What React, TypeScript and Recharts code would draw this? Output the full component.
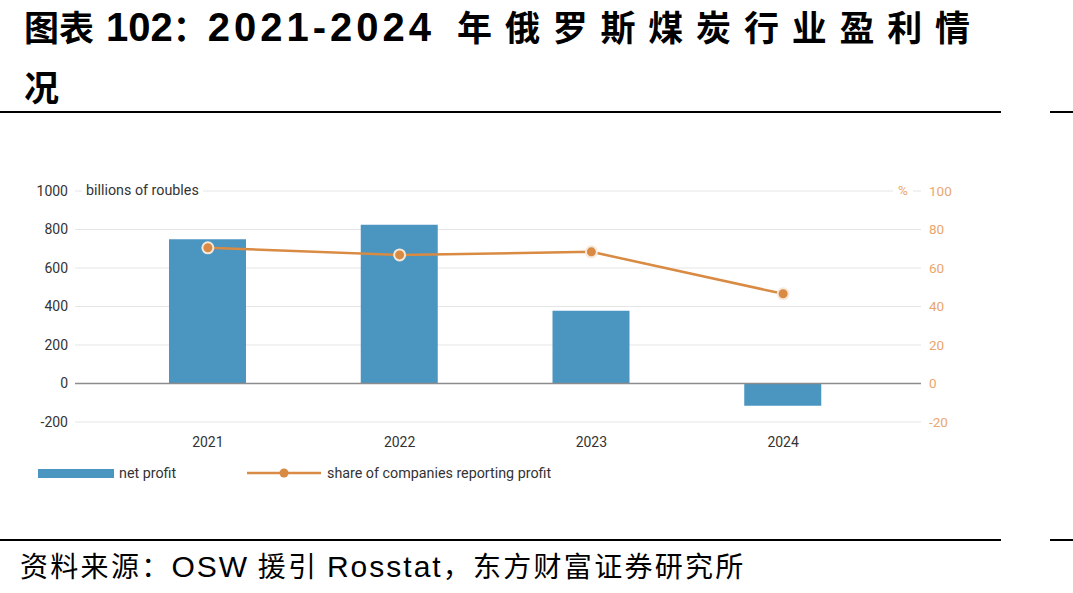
import React from "react";
import {
  ComposedChart,
  Bar,
  Line,
  XAxis,
  YAxis,
  CartesianGrid,
  ReferenceLine,
} from "recharts";

// 年份与两组数据
const years = ["2021", "2022", "2023", "2024"];
const netProfit = [750, 825, 378, -115]; // 十亿卢布
const profitShare = [70.5, 66.8, 68.4, 46.6]; // %

const leftTicks = [-200, 0, 200, 400, 600, 800, 1000];
const rightTicks = [-20, 0, 20, 40, 60, 80, 100];

const BAR_COLOR = "#4b95c1";
const LINE_COLOR = "#d98a43";
const RIGHT_TICK_COLOR = "#eaa66c";
const FONT = 'Roboto, "Noto Sans", sans-serif';
const CJK = '"Noto Sans CJK SC", sans-serif';
const LATIN = '"Liberation Sans", Arial, sans-serif';

const data = years.map((y, i) => ({
  year: y,
  profit: netProfit[i],
  share: profitShare[i],
}));

export default function App() {
  return (
    <div
      style={{
        position: "fixed",
        left: 0,
        top: 0,
        width: 1073,
        height: 593,
        background: "#fff",
        overflow: "hidden",
        fontFamily: CJK,
        color: "#000",
      }}
    >
      {/* 标题 */}
      <div
        style={{
          position: "absolute",
          left: 24,
          top: 0,
          whiteSpace: "nowrap",
          fontWeight: 700,
          lineHeight: "52px",
        }}
      >
        <div>
          <span style={{ fontSize: 35 }}>图表</span>
          <span style={{ fontSize: 40, fontFamily: LATIN, marginLeft: 12 }}>102</span>
          <span style={{ fontSize: 35 }}>：</span>
          <span style={{ fontSize: 40, fontFamily: LATIN, letterSpacing: 4 }}>2021-2024</span>
          <span style={{ fontSize: 35, letterSpacing: 12.8, marginLeft: 22 }}>
            年俄罗斯煤炭行业盈利情
          </span>
        </div>
        <div style={{ fontSize: 35 }}>况</div>
      </div>

      {/* 上下分隔线 */}
      <div style={{ position: "absolute", left: 0, top: 111, width: 1001, height: 2, background: "#000" }} />
      <div style={{ position: "absolute", left: 1050, top: 111, width: 23, height: 2, background: "#000" }} />
      <div style={{ position: "absolute", left: 0, top: 539, width: 1001, height: 2, background: "#000" }} />
      <div style={{ position: "absolute", left: 1050, top: 539, width: 23, height: 2, background: "#000" }} />

      {/* 图表 */}
      <div style={{ position: "absolute", left: 0, top: 170 }}>
        <ComposedChart
          width={1073}
          height={290}
          data={data}
          margin={{ top: 21, right: 112, bottom: 8, left: 0 }}
          barSize={77}
        >
          <CartesianGrid
            yAxisId="left"
            vertical={false}
            stroke="#e6e6e6"
            strokeWidth={1.2}
          />
          <XAxis
            dataKey="year"
            axisLine={false}
            tickLine={false}
            height={30}
            padding={{ left: 37, right: 42 }}
            tick={{ fill: "#333", fontSize: 14, fontFamily: FONT }}
            tickMargin={9}
          />
          <YAxis
            yAxisId="left"
            width={75}
            domain={[-200, 1000]}
            ticks={leftTicks}
            axisLine={false}
            tickLine={false}
            tickSize={5}
            tick={{ fill: "#333", fontSize: 14, fontFamily: FONT }}
          />
          <YAxis
            yAxisId="right"
            orientation="right"
            width={40}
            domain={[-20, 100]}
            ticks={rightTicks}
            axisLine={false}
            tickLine={false}
            tick={{ fill: RIGHT_TICK_COLOR, fontSize: 13.5, fontFamily: FONT, textAnchor: "start" }}
          />
          <ReferenceLine yAxisId="left" y={0} stroke="#8c8c8c" strokeWidth={1.5} />
          <Bar
            yAxisId="left"
            dataKey="profit"
            fill={BAR_COLOR}
            isAnimationActive={false}
          />
          <Line
            yAxisId="right"
            dataKey="share"
            type="linear"
            stroke={LINE_COLOR}
            strokeWidth={2.5}
            dot={{ r: 5.5, fill: LINE_COLOR, stroke: "#f6e8da", strokeWidth: 2 }}
            isAnimationActive={false}
          />
        </ComposedChart>
      </div>

      {/* 坐标轴单位 */}
      <div
        style={{
          position: "absolute",
          left: 82,
          top: 181,
          padding: "0 4px",
          background: "#fff",
          fontFamily: FONT,
          fontSize: 14.3,
          color: "#333",
          lineHeight: "19px",
        }}
      >
        billions of roubles
      </div>
      <div
        style={{
          position: "absolute",
          left: 893,
          top: 181,
          width: 20,
          textAlign: "center",
          background: "#fff",
          fontFamily: FONT,
          fontSize: 13.5,
          color: RIGHT_TICK_COLOR,
          lineHeight: "19px",
        }}
      >
        %
      </div>

      {/* 图例 */}
      <div style={{ position: "absolute", left: 38, top: 469, width: 76, height: 9, background: BAR_COLOR }} />
      <div
        style={{
          position: "absolute",
          left: 119,
          top: 463,
          fontFamily: FONT,
          fontSize: 14.3,
          lineHeight: "20px",
          color: "#333",
        }}
      >
        net profit
      </div>
      <svg width={74} height={14} style={{ position: "absolute", left: 247, top: 466 }}>
        <line x1={0} y1={7} x2={74} y2={7} stroke={LINE_COLOR} strokeWidth={2.5} />
        <circle cx={37} cy={7} r={4.5} fill={LINE_COLOR} />
      </svg>
      <div
        style={{
          position: "absolute",
          left: 327,
          top: 463,
          fontFamily: FONT,
          fontSize: 14.3,
          lineHeight: "20px",
          color: "#333",
          whiteSpace: "nowrap",
        }}
      >
        share of companies reporting profit
      </div>

      {/* 资料来源 */}
      <div
        style={{
          position: "absolute",
          left: 20,
          top: 546,
          fontSize: 28,
          lineHeight: "38px",
          letterSpacing: 2.3,
          whiteSpace: "nowrap",
        }}
      >
        资料来源：
        <span style={{ fontFamily: LATIN, fontSize: 30, letterSpacing: 2 }}>OSW</span> 援引{" "}
        <span style={{ fontFamily: LATIN, fontSize: 30, letterSpacing: 2 }}>Rosstat</span>
        ，东方财富证券研究所
      </div>
    </div>
  );
}
